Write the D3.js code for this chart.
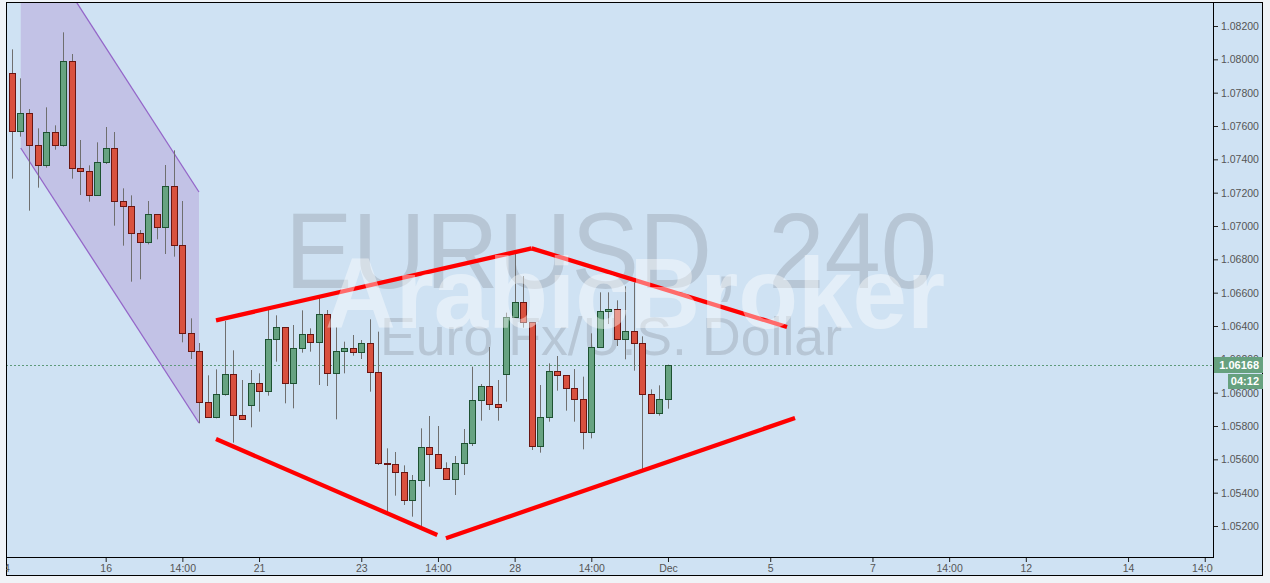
<!DOCTYPE html>
<html><head><meta charset="utf-8">
<script src="https://cdn.jsdelivr.net/npm/d3@7/dist/d3.min.js"></script>
<style>
html,body{margin:0;padding:0;background:#eff3f7;}
svg{display:block;font-family:"Liberation Sans",Arial,sans-serif;}
</style>
</head><body>
<svg id="c" width="1270" height="583"></svg>
<script>
// ---------- data (4h EURUSD bars, bar index 0 = 1 Dec first bar) ----------
const barIndex = d3.range(-78, 1);
const openP  = [1.07984,1.07916,1.07572,1.07676,1.07484,1.07364,1.07562,1.07484,1.07988,1.07346,
                1.07328,1.07184,1.07382,1.07466,1.07148,1.07118,1.06956,1.06902,1.07070,1.06992,
                1.07238,1.06884,1.06356,1.06248,1.05942,1.05852,1.05990,1.06110,1.05864,1.05924,
                1.06056,1.06008,1.06320,1.06392,1.06056,1.06266,1.06350,1.06302,1.06470,1.06116,
                1.06248,1.06266,1.06242,1.06296,1.06122,1.05576,1.05574,1.05522,1.05354,1.05474,
                1.05672,1.05630,1.05550,1.05480,1.05576,1.05696,1.05954,1.06040,1.05930,1.06110,
                1.06452,1.06542,1.06422,1.05682,1.05852,1.06128,1.06104,1.06026,1.05964,1.05762,
                1.06272,1.06488,1.06500,1.06320,1.06368,1.06296,1.05990,1.05876,1.05960];
const highP  = [1.08026,1.08060,1.07886,1.07702,1.07586,1.07712,1.07604,1.08162,1.08032,1.07516,
                1.07364,1.07502,1.07594,1.07564,1.07226,1.07184,1.06976,1.07150,1.07070,1.07366,
                1.07454,1.07150,1.06446,1.06298,1.06104,1.06140,1.06430,1.06254,1.06076,1.06136,
                1.06116,1.06496,1.06464,1.06392,1.06406,1.06494,1.06386,1.06580,1.06496,1.06392,
                1.06306,1.06346,1.06316,1.06440,1.06366,1.05666,1.05644,1.05564,1.05506,1.05786,
                1.05860,1.05800,1.05582,1.05620,1.05782,1.06156,1.06052,1.06274,1.06076,1.06480,
                1.06856,1.06700,1.06422,1.06046,1.06176,1.06220,1.06104,1.06142,1.06096,1.06356,
                1.06602,1.06602,1.06554,1.06638,1.06662,1.06338,1.06020,1.06044,1.06168];
const lowP   = [1.07876,1.07284,1.07536,1.07092,1.07230,1.07350,1.07458,1.07476,1.07284,1.07186,
                1.07146,1.07184,1.07372,1.07002,1.06882,1.06666,1.06680,1.06890,1.06920,1.06832,
                1.06816,1.06302,1.06202,1.05816,1.05852,1.05846,1.05982,1.05700,1.05840,1.05792,
                1.05886,1.05982,1.06186,1.05936,1.05906,1.06240,1.06246,1.06046,1.06040,1.05840,
                1.06116,1.06222,1.06202,1.06006,1.05566,1.05266,1.05382,1.05326,1.05256,1.05196,
                1.05436,1.05550,1.05480,1.05386,1.05506,1.05680,1.05832,1.05896,1.05832,1.05946,
                1.06452,1.06390,1.05656,1.05640,1.05826,1.06012,1.05892,1.05826,1.05660,1.05726,
                1.06272,1.06412,1.06280,1.06200,1.06132,1.05536,1.05876,1.05862,1.05904];
const closeP = [1.07918,1.07572,1.07676,1.07484,1.07364,1.07562,1.07484,1.07988,1.07346,1.07328,
                1.07184,1.07382,1.07466,1.07148,1.07118,1.06956,1.06902,1.07070,1.06992,1.07238,
                1.06884,1.06356,1.06248,1.05942,1.05852,1.05990,1.06110,1.05864,1.05840,1.06056,
                1.06008,1.06320,1.06392,1.06056,1.06266,1.06350,1.06302,1.06470,1.06116,1.06248,
                1.06266,1.06242,1.06296,1.06122,1.05576,1.05574,1.05522,1.05354,1.05474,1.05672,
                1.05630,1.05550,1.05480,1.05576,1.05696,1.05954,1.06040,1.05930,1.05912,1.06452,
                1.06542,1.06422,1.05682,1.05852,1.06128,1.06104,1.06026,1.05964,1.05762,1.06272,
                1.06488,1.06500,1.06320,1.06368,1.06296,1.05990,1.05876,1.05960,1.06168];

const yTicks = [1.052,1.054,1.056,1.058,1.060,1.062,1.064,1.066,1.068,1.070,1.072,1.074,1.076,1.078,1.080,1.082];
const xTickLabels = ["14","16","14:00","21","23","14:00","28","14:00","Dec","5","7","14:00","12","14","14:00"];
const xTickBars   = [-78,-66,-57,-48,-36,-27,-18,-9,0,12,24,33,42,54,63];

const lastPrice = 1.06168;
const countdown = "04:12";
const titleText = "EURUSD, 240";
const descText = "Euro Fx/U.S. Dollar";
const brandText = "ArabicBroker";

// drawings, in (bar index, price)
const channelUpper = [[-75.97,1.08861],[-55.05,1.07204]];
const channelLower = [[-75.97,1.07468],[-55.05,1.05818]];
const redLines = [
  [[-53.05,1.06434],[-16.0,1.06866]],
  [[-16.0,1.06866],[13.97,1.06394]],
  [[-53.05,1.05722],[-27.08,1.05146]],
  [[-26.06,1.05126],[14.91,1.05848]]
];

// ---------- layout ----------
const W = 1270, H = 583;
const L = 6, T = 2, R = 1213, B = 557, FR = 1263, FB = 576;
const bg = "#cfe2f3";

const svg = d3.select("#c");
const x = d3.scaleLinear().domain([-77.7, 63.97]).range([L, R]);
const y = d3.scaleLinear().domain([1.052, 1.082]).range([526, 26]);

svg.append("rect").attr("width", W).attr("height", H).attr("fill", "#eff3f7");
svg.append("rect").attr("x", L).attr("y", T).attr("width", FR - L).attr("height", FB - T).attr("fill", bg);

const defs = svg.append("defs");
defs.append("clipPath").attr("id", "plotClip").append("rect")
  .attr("x", L).attr("y", T).attr("width", R - L).attr("height", B - T);
defs.append("clipPath").attr("id", "xClip").append("rect")
  .attr("x", L).attr("y", B).attr("width", R - L).attr("height", FB - B);

const plot = svg.append("g").attr("clip-path", "url(#plotClip)");

// watermark behind
plot.append("text").attr("x", 285).attr("y", 288)
  .attr("font-size", 108).attr("fill", "#b7c6d5")
  .attr("textLength", 652).attr("lengthAdjust", "spacingAndGlyphs").text(titleText);
plot.append("text").attr("x", 380).attr("y", 355)
  .attr("font-size", 53).attr("fill", "#b7c6d5")
  .attr("textLength", 462).attr("lengthAdjust", "spacingAndGlyphs").text(descText);

// channel
const poly = [channelUpper[0], channelUpper[1], channelLower[1], channelLower[0]];
plot.append("path")
  .attr("d", "M" + poly.map(p => [x(p[0]), y(p[1])].join(",")).join("L") + "Z")
  .attr("fill", "#c2c2e6");
const line = d3.line().x(p => x(p[0])).y(p => y(p[1]));
[channelUpper, channelLower].forEach(seg => {
  plot.append("path").attr("d", line(seg)).attr("fill", "none")
    .attr("stroke", "#9466c9").attr("stroke-width", 1.3);
});

// last price dashed line
plot.append("line").attr("x1", L).attr("x2", R)
  .attr("y1", Math.round(y(lastPrice)) + 0.5).attr("y2", Math.round(y(lastPrice)) + 0.5)
  .attr("stroke", "#5e9a7a").attr("stroke-width", 1).attr("stroke-dasharray", "2,2");

// candles
const candles = barIndex.map((b, i) => ({b, o: openP[i], h: highP[i], l: lowP[i], c: closeP[i]}));
const cg = plot.append("g");
candles.forEach(d => {
  const cx = Math.round(x(d.b));
  const up = d.c >= d.o;
  cg.append("line").attr("x1", cx + 0.5).attr("x2", cx + 0.5)
    .attr("y1", y(d.h)).attr("y2", y(d.l))
    .attr("stroke", "#6f6f6f").attr("stroke-width", 1);
  const top = Math.round(y(Math.max(d.o, d.c)));
  const bot = Math.round(y(Math.min(d.o, d.c)));
  const h = Math.max(1, bot - top);
  cg.append("rect").attr("x", cx - 2.5).attr("y", top + 0.5)
    .attr("width", 6).attr("height", h)
    .attr("fill", up ? "#67a381" : "#d9513f")
    .attr("stroke", up ? "#1e5232" : "#6a1612").attr("stroke-width", 1);
});

// red trend lines
redLines.forEach(seg => {
  plot.append("path").attr("d", line(seg)).attr("fill", "none")
    .attr("stroke", "#ff0000").attr("stroke-width", 4.3);
});

// brand overlay
plot.append("text").attr("x", 325).attr("y", 328)
  .attr("font-size", 101).attr("font-weight", "bold")
  .attr("fill", "#ffffff").attr("fill-opacity", 0.42)
  .attr("textLength", 620).attr("lengthAdjust", "spacingAndGlyphs").text(brandText);

// frame
svg.append("rect").attr("x", L + 0.5).attr("y", T + 0.5).attr("width", FR - L - 1).attr("height", FB - T - 1)
  .attr("fill", "none").attr("stroke", "#000").attr("stroke-width", 1);
svg.append("line").attr("x1", R + 0.5).attr("x2", R + 0.5).attr("y1", T).attr("y2", B + 1)
  .attr("stroke", "#000");
svg.append("line").attr("x1", L).attr("x2", R + 1).attr("y1", B + 0.5).attr("y2", B + 0.5)
  .attr("stroke", "#000");

// y axis
const ya = svg.append("g").attr("transform", `translate(${R + 1},0)`)
  .call(d3.axisRight(y).tickValues(yTicks).tickFormat(d3.format(".5f")).tickSize(4).tickPadding(3));
ya.select(".domain").remove();
ya.selectAll(".tick line").attr("stroke", "#222");
ya.selectAll(".tick text").attr("fill", "#555").attr("font-size", 10.5)
  .attr("font-family", "'Liberation Sans',Arial,sans-serif");

// x axis
const xa = svg.append("g").attr("clip-path", "url(#xClip)")
  .append("g").attr("transform", `translate(0,${B + 1})`)
  .call(d3.axisBottom(x).tickValues(xTickBars).tickFormat((d, i) => xTickLabels[i]).tickSize(4).tickPadding(3));
xa.select(".domain").remove();
xa.selectAll(".tick line").attr("stroke", "#222");
xa.selectAll(".tick text").attr("fill", "#555").attr("font-size", 10.5)
  .attr("font-family", "'Liberation Sans',Arial,sans-serif");

// price label
const py = y(lastPrice);
svg.append("rect").attr("x", R + 1).attr("y", Math.round(py) - 8).attr("width", FR - R - 1).attr("height", 16)
  .attr("fill", "#66a17f");
svg.append("text").attr("x", FR - 4).attr("y", Math.round(py) + 4).attr("text-anchor", "end")
  .attr("font-size", 11).attr("font-weight", "bold").attr("fill", "#fff").text(d3.format(".5f")(lastPrice));
svg.append("rect").attr("x", 1228).attr("y", Math.round(py) + 9).attr("width", FR - 1228).attr("height", 15)
  .attr("fill", "#66a17f");
svg.append("text").attr("x", FR - 4).attr("y", Math.round(py) + 20).attr("text-anchor", "end")
  .attr("font-size", 11).attr("font-weight", "bold").attr("fill", "#fff").text(countdown);
</script>
</body></html>
